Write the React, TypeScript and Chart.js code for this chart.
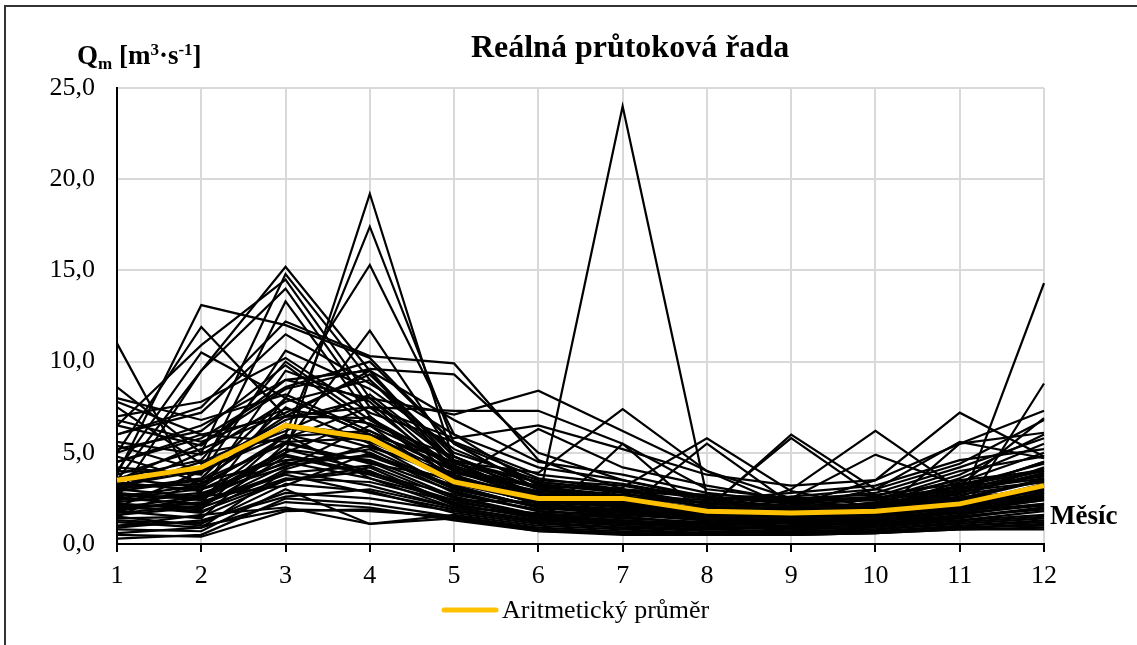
import React, { useEffect, useRef } from 'react';
import { Chart, registerables } from 'chart.js';

Chart.register(...registerables);

const months = ['1', '2', '3', '4', '5', '6', '7', '8', '9', '10', '11', '12'];
const titleText = 'Reálná průtoková řada';
const xAxisTitle = 'Měsíc';
const legendLabel = 'Aritmetický průměr';

const average = [3.5, 4.2, 6.5, 5.8, 3.4, 2.5, 2.5, 1.8, 1.7, 1.8, 2.2, 3.2];

const y01 = [1.8, 2.5, 4.5, 3.6, 2.4, 2.3, 24.0, 2.6, 1.5, 1.4, 1.8, 2.2];
const y02 = [2.0, 1.8, 3.5, 4.2, 2.2, 1.4, 1.1, 0.9, 1.0, 1.2, 2.0, 14.3];
const y03 = [3.0, 2.6, 5.2, 4.0, 2.1, 1.5, 1.3, 1.1, 1.2, 1.3, 1.5, 8.8];
const y04 = [2.5, 3.0, 5.0, 19.2, 4.5, 2.5, 2.0, 1.5, 1.4, 1.5, 2.0, 2.8];
const y05 = [3.2, 4.0, 6.0, 17.4, 5.5, 3.0, 2.2, 1.7, 1.5, 1.6, 2.2, 3.0];
const y06 = [2.0, 2.2, 8.0, 15.3, 6.0, 3.2, 2.5, 1.8, 1.6, 1.7, 2.0, 2.6];
const y07 = [1.5, 3.5, 5.5, 11.7, 4.8, 2.6, 2.0, 1.6, 1.3, 1.4, 1.8, 2.4];
const y08 = [3.5, 9.5, 15.2, 9.5, 4.0, 2.5, 2.0, 1.5, 1.3, 1.4, 1.8, 2.5];
const y09 = [3.8, 13.1, 12.0, 10.2, 5.5, 3.0, 2.4, 1.7, 1.5, 1.6, 2.2, 3.2];
const y10 = [11.0, 2.5, 6.0, 5.0, 3.0, 2.0, 1.8, 1.4, 1.2, 1.4, 1.8, 2.5];
const y11 = [5.0, 11.9, 7.0, 9.5, 4.5, 2.5, 2.0, 1.5, 1.4, 1.5, 2.0, 3.0];
const y12 = [6.5, 10.9, 14.5, 8.0, 4.5, 3.0, 2.5, 1.8, 1.6, 1.7, 2.4, 3.5];
const y13 = [4.0, 10.5, 8.0, 6.0, 3.5, 2.2, 1.8, 1.4, 1.2, 1.3, 1.7, 2.5];
const y14 = [2.5, 9.5, 14.0, 7.5, 4.0, 2.8, 2.2, 1.6, 1.4, 1.5, 2.0, 3.0];
const y15 = [3.0, 5.0, 14.8, 9.0, 4.5, 2.5, 2.0, 1.5, 1.4, 1.5, 2.0, 2.8];
const y16 = [2.0, 4.0, 13.3, 7.0, 3.5, 2.2, 1.8, 1.4, 1.2, 1.3, 1.8, 2.4];
const y17 = [6.0, 7.5, 12.2, 10.3, 9.9, 4.6, 3.0, 2.0, 1.8, 1.9, 2.5, 3.5];
const y18 = [3.5, 5.5, 8.5, 9.6, 9.3, 5.0, 3.5, 2.5, 2.0, 2.2, 3.0, 4.0];
const y19 = [4.5, 6.0, 7.0, 7.5, 7.3, 7.3, 5.5, 3.0, 2.5, 2.4, 3.0, 4.5];
const y20 = [5.0, 6.5, 9.0, 8.0, 7.1, 8.4, 6.2, 4.0, 2.5, 2.5, 3.5, 4.0];
const y21 = [3.0, 4.5, 6.5, 6.0, 4.5, 3.9, 7.4, 4.0, 2.0, 2.0, 2.5, 3.5];
const y22 = [0.3, 0.5, 2.5, 2.2, 1.5, 0.9, 0.7, 0.6, 0.6, 0.7, 0.9, 1.0];
const y23 = [0.5, 0.4, 1.8, 1.9, 1.4, 0.8, 0.6, 0.5, 0.5, 0.6, 0.8, 0.9];
const y24 = [0.8, 0.7, 3.0, 1.1, 1.6, 1.0, 0.8, 0.6, 0.6, 0.7, 1.0, 1.2];
const y25 = [1.0, 1.2, 2.8, 2.5, 1.8, 1.2, 0.9, 0.7, 0.7, 0.8, 1.1, 1.4];
const y26 = [1.2, 0.9, 4.0, 3.2, 2.0, 1.3, 1.0, 0.8, 0.7, 0.8, 1.2, 1.5];
const y27 = [1.4, 1.5, 3.5, 4.0, 2.2, 1.4, 1.1, 0.9, 0.8, 0.9, 1.3, 1.8];
const y28 = [1.6, 2.0, 4.8, 3.8, 2.4, 1.5, 1.2, 1.0, 0.9, 1.0, 1.4, 2.0];
const y29 = [1.8, 1.4, 5.5, 4.5, 2.6, 1.6, 1.3, 1.0, 0.9, 1.0, 1.5, 1.9];
const y30 = [2.0, 2.6, 3.2, 5.0, 2.8, 1.8, 1.5, 1.1, 1.0, 1.1, 1.6, 2.2];
const y31 = [2.2, 1.9, 6.0, 3.6, 2.0, 1.7, 1.4, 1.2, 1.0, 1.2, 1.7, 2.1];
const y32 = [2.4, 2.8, 4.2, 6.5, 3.2, 2.0, 1.6, 1.3, 1.1, 1.2, 1.8, 2.6];
const y33 = [2.6, 3.2, 7.5, 5.5, 3.0, 2.1, 1.7, 1.3, 1.2, 1.3, 1.9, 2.8];
const y34 = [2.8, 2.4, 5.0, 7.0, 3.5, 2.2, 1.9, 1.4, 1.3, 1.4, 2.1, 3.0];
const y35 = [3.0, 3.6, 8.0, 6.0, 3.8, 2.4, 2.0, 1.5, 1.3, 1.5, 2.2, 3.3];
const y36 = [3.2, 4.2, 6.8, 8.0, 4.0, 2.6, 2.1, 1.6, 1.4, 1.6, 2.4, 3.6];
const y37 = [3.4, 2.9, 9.5, 7.8, 3.6, 2.3, 2.3, 1.7, 1.5, 1.6, 2.6, 4.2];
const y38 = [3.6, 4.6, 10.0, 6.8, 4.2, 2.7, 2.4, 1.8, 1.6, 1.7, 2.8, 3.8];
const y39 = [3.8, 5.2, 7.2, 9.3, 4.8, 3.0, 2.6, 1.9, 1.7, 1.8, 3.0, 4.5];
const y40 = [4.2, 3.8, 10.6, 8.5, 5.2, 3.3, 2.8, 2.0, 1.8, 1.9, 3.2, 4.0];
const y41 = [4.5, 5.8, 8.6, 10.0, 5.5, 3.6, 3.0, 2.2, 1.9, 2.0, 3.4, 5.0];
const y42 = [5.2, 6.2, 9.8, 6.5, 4.3, 2.8, 2.5, 2.3, 2.0, 2.1, 2.9, 3.4];
const y43 = [5.6, 4.9, 7.8, 9.0, 5.0, 3.5, 3.2, 2.4, 2.1, 2.2, 3.6, 5.5];
const y44 = [6.0, 7.2, 11.5, 8.8, 6.0, 4.2, 3.5, 2.6, 2.2, 2.4, 3.8, 6.0];
const y45 = [6.5, 5.4, 9.0, 9.5, 6.8, 4.5, 3.8, 2.8, 2.3, 2.6, 4.0, 4.8];
const y46 = [7.0, 7.8, 10.2, 7.2, 5.6, 3.8, 3.3, 2.5, 2.4, 2.8, 4.2, 5.8];
const y47 = [7.5, 4.4, 6.2, 8.2, 4.6, 3.4, 2.9, 2.2, 2.6, 3.0, 4.4, 6.8];
const y48 = [8.0, 6.8, 8.2, 6.2, 4.0, 3.1, 2.7, 2.4, 2.8, 3.2, 4.6, 5.2];
const y49 = [8.6, 5.0, 5.8, 7.5, 5.8, 6.5, 5.2, 3.8, 3.2, 3.5, 5.5, 6.1];
const y50 = [1.0, 1.6, 2.0, 1.1, 1.4, 0.7, 0.5, 0.5, 0.5, 0.6, 0.9, 1.1];
const y51 = [1.5, 1.0, 1.9, 1.8, 1.5, 0.8, 0.6, 0.5, 0.6, 0.7, 1.0, 1.3];
const y52 = [2.5, 2.2, 3.8, 2.8, 1.9, 1.2, 5.5, 1.5, 1.2, 1.1, 1.5, 2.0];
const y53 = [4.8, 3.4, 4.6, 4.8, 3.2, 2.0, 1.8, 5.5, 2.2, 1.8, 2.3, 3.2];
const y54 = [2.2, 2.0, 3.6, 3.4, 2.3, 1.6, 3.1, 5.8, 2.9, 2.0, 2.5, 3.0];
const y55 = [3.3, 3.0, 4.4, 5.2, 3.1, 2.0, 1.7, 1.9, 6.0, 3.0, 2.2, 2.9];
const y56 = [1.9, 2.3, 3.9, 4.3, 2.5, 1.6, 1.5, 2.0, 5.8, 2.6, 1.9, 2.7];
const y57 = [2.7, 2.5, 5.2, 4.6, 2.9, 1.8, 1.6, 1.5, 3.0, 6.2, 3.0, 3.6];
const y58 = [3.1, 3.3, 5.6, 5.8, 3.3, 2.3, 2.0, 1.7, 2.1, 3.5, 7.2, 4.8];
const y59 = [2.3, 2.7, 4.9, 3.9, 2.7, 1.9, 1.9, 1.6, 2.5, 4.9, 3.2, 4.4];
const y60 = [4.0, 3.9, 6.4, 5.6, 3.7, 2.6, 2.2, 1.8, 2.0, 3.0, 5.6, 4.7];
const y61 = [1.3, 1.1, 3.3, 2.9, 1.7, 1.1, 0.9, 0.8, 1.0, 1.5, 5.5, 7.3];
const y62 = [6.8, 5.6, 7.4, 6.6, 4.8, 3.0, 2.6, 2.1, 1.8, 2.3, 3.2, 6.9];
const y63 = [7.8, 6.0, 5.6, 4.4, 3.6, 6.3, 4.2, 3.2, 2.4, 2.0, 2.8, 3.9];
const y64 = [0.6, 0.9, 2.3, 2.0, 1.3, 0.7, 0.6, 0.5, 0.5, 0.6, 0.8, 0.8];
const y65 = [3.6, 3.1, 5.9, 6.2, 4.1, 3.2, 2.9, 2.6, 2.3, 2.5, 3.1, 3.7];
const y66 = [2.9, 3.5, 6.6, 5.3, 3.9, 2.9, 2.6, 2.3, 2.0, 2.2, 2.7, 3.4];
const y67 = [1.7, 2.1, 4.3, 4.9, 3.4, 2.4, 2.1, 1.9, 1.7, 1.9, 2.4, 3.1];
const y68 = [5.4, 4.0, 7.0, 6.9, 4.4, 3.4, 3.0, 2.7, 2.5, 2.7, 3.3, 4.1];
const y69 = [0.9, 1.3, 2.6, 3.0, 2.0, 1.3, 1.1, 1.0, 0.9, 1.0, 1.3, 1.6];
const y70 = [2.1, 1.7, 4.1, 5.4, 3.6, 2.7, 2.3, 2.0, 1.9, 2.1, 2.6, 2.5];

const yearSeries = [
  y01, y02, y03, y04, y05, y06, y07, y08, y09, y10, y11, y12, y13, y14, y15, y16,
  y17, y18, y19, y20, y21, y22, y23, y24, y25, y26, y27, y28, y29, y30, y31, y32,
  y33, y34, y35, y36, y37, y38, y39, y40, y41, y42, y43, y44, y45, y46, y47, y48,
  y49, y50, y51, y52, y53, y54, y55, y56, y57, y58, y59, y60, y61, y62, y63, y64,
  y65, y66, y67, y68, y69, y70,
];

const FONT = '"Liberation Serif", "Times New Roman", serif';
const AVG_COLOR = '#FFC000';

const textPlugin = {
  id: 'customTexts',
  afterDraw(chart: any) {
    const ctx = chart.ctx as CanvasRenderingContext2D;
    ctx.save();
    ctx.fillStyle = '#000';
    ctx.textBaseline = 'alphabetic';

    // Title
    ctx.font = `bold 32px ${FONT}`;
    ctx.textAlign = 'center';
    ctx.fillText(titleText, 630, 57);

    // Y axis title: Qm [m³·s⁻¹]
    ctx.textAlign = 'left';
    let x = 77;
    const base = 64;
    const big = `bold 27px ${FONT}`;
    const small = `bold 17px ${FONT}`;
    const parts: [string, string, number][] = [
      ['Q', big, 0],
      ['m', small, 5],
      [' [m', big, 0],
      ['3', small, -9],
      ['·s', big, 0],
      ['-1', small, -9],
      [']', big, 0],
    ];
    for (const [t, f, dy] of parts) {
      ctx.font = f;
      ctx.fillText(t, x, base + dy);
      x += ctx.measureText(t).width;
    }

    // X axis title
    ctx.font = `bold 27px ${FONT}`;
    ctx.fillText(xAxisTitle, 1050, 524);

    // Legend
    const ds = chart.data.datasets.find((d: any) => d.label === legendLabel);
    if (ds) {
      ctx.strokeStyle = ds.borderColor;
      ctx.lineWidth = 5;
      ctx.lineCap = 'round';
      ctx.beginPath();
      ctx.moveTo(444, 610);
      ctx.lineTo(496, 610);
      ctx.stroke();
      ctx.font = `26px ${FONT}`;
      ctx.fillText(legendLabel, 502, 618);
    }
    ctx.restore();
  },
};

export default function App() {
  const canvasRef = useRef<HTMLCanvasElement | null>(null);

  useEffect(() => {
    document.body.style.margin = '0';
    const canvas = canvasRef.current;
    if (!canvas) return;

    const datasets: any[] = yearSeries.map((s, i) => ({
      label: `rok ${i + 1}`,
      data: s,
      borderColor: '#000000',
      borderWidth: 2.2,
      pointRadius: 0,
      tension: 0,
      fill: false,
      order: 2,
    }));
    datasets.push({
      label: legendLabel,
      data: average,
      borderColor: AVG_COLOR,
      borderWidth: 5,
      pointRadius: 0,
      tension: 0,
      fill: false,
      order: 0,
    });

    const chart = new Chart(canvas, {
      type: 'line',
      data: { labels: months, datasets },
      options: {
        animation: false,
        responsive: true,
        maintainAspectRatio: false,
        layout: { padding: { top: 88, right: 93, bottom: 51, left: 0 } },
        plugins: {
          legend: { display: false },
          title: { display: false },
          tooltip: { enabled: false },
        },
        scales: {
          x: {
            type: 'category',
            offset: false,
            grid: {
              color: '#d9d9d9',
              lineWidth: 2,
              tickColor: '#000000',
              tickLength: 8,
              tickWidth: 2,
            },
            border: { color: '#000000', width: 2 },
            ticks: {
              color: '#000',
              font: { family: FONT, size: 26 },
              padding: 9,
              maxRotation: 0,
              autoSkip: false,
            },
            afterFit: (scale: any) => {
              scale.height = 50;
            },
          },
          y: {
            min: 0,
            max: 25,
            grid: { color: '#d9d9d9', lineWidth: 2, drawTicks: false },
            border: { color: '#000000', width: 2 },
            ticks: {
              stepSize: 5,
              color: '#000',
              padding: 22,
              font: { family: FONT, size: 26 },
              callback: (v: any) => Number(v).toFixed(1).replace('.', ','),
            },
            afterFit: (scale: any) => {
              scale.width = 117;
            },
          },
        },
      },
      plugins: [textPlugin],
    });

    return () => chart.destroy();
  }, []);

  return (
    <div
      style={{
        position: 'relative',
        width: 1137,
        height: 645,
        boxSizing: 'border-box',
        background: '#fff',
        overflow: 'hidden',
      }}
    >
      <div
        style={{
          position: 'absolute',
          left: 4,
          top: 5,
          width: 1160,
          height: 680,
          border: '2px solid #333',
          boxSizing: 'border-box',
          pointerEvents: 'none',
        }}
      />
      <div style={{ position: 'absolute', left: 0, top: 0, width: 1137, height: 645 }}>
        <canvas ref={canvasRef} />
      </div>
    </div>
  );
}
